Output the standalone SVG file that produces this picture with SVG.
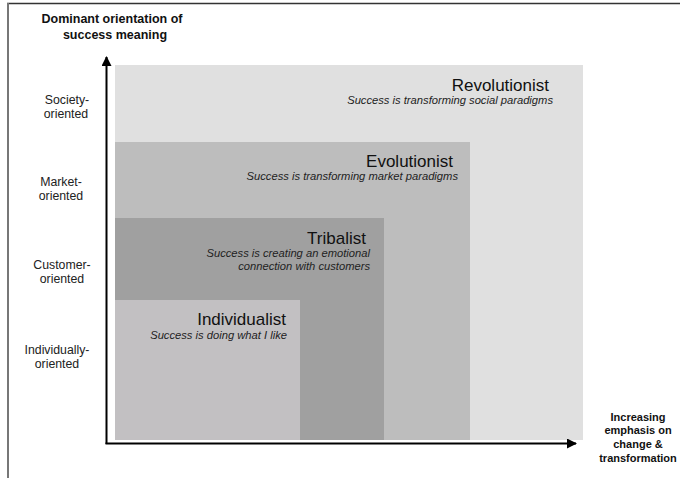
<svg xmlns="http://www.w3.org/2000/svg" width="680" height="478" viewBox="0 0 680 478">
<style>
.ax{font-family:"Liberation Sans",Arial,sans-serif;font-size:11px;font-weight:bold;fill:#111;text-anchor:middle}
.yt{font-size:12.5px}
.lbl{font-family:"Liberation Sans",Arial,sans-serif;font-size:12.3px;fill:#222;text-anchor:middle}
.ttl{font-family:"Liberation Sans",Arial,sans-serif;font-size:17px;fill:#111;text-anchor:end}
.sub{font-family:"Liberation Sans",Arial,sans-serif;font-size:11.2px;font-style:italic;fill:#222;text-anchor:end}
.axis{stroke:#000;stroke-width:2;fill:none}
</style>
<defs>
<marker id="ah" viewBox="0 0 10 10" refX="9" refY="5" markerWidth="5" markerHeight="5" orient="auto" markerUnits="strokeWidth">
<path d="M0,0 L10,5 L0,10 z" fill="#000"/>
</marker>
</defs>
<rect width="680" height="478" fill="#fff"/>
<g id="frame">
<line x1="7" y1="3.5" x2="680" y2="3.5" stroke="#333" stroke-width="1.5"/>
<line x1="8" y1="3" x2="8" y2="478" stroke="#777" stroke-width="2"/>
</g>
<g id="revolutionist">
<rect x="115" y="65" width="468" height="375" fill="#e0e0e0"/>
<text class="ttl" x="549" y="91">Revolutionist</text>
<text class="sub" x="553" y="104">Success is transforming social paradigms</text>
</g>
<g id="evolutionist">
<rect x="115" y="142" width="355" height="298" fill="#bdbdbd"/>
<text class="ttl" x="453" y="167">Evolutionist</text>
<text class="sub" x="458" y="180">Success is transforming market paradigms</text>
</g>
<g id="tribalist">
<rect x="115" y="218" width="269" height="222" fill="#a0a0a0"/>
<text class="ttl" x="366" y="244">Tribalist</text>
<text class="sub" x="370" y="257">Success is creating an emotional</text>
<text class="sub" x="370" y="270">connection with customers</text>
</g>
<g id="individualist">
<rect x="115" y="300" width="185" height="140" fill="#c2c0c2"/>
<text class="ttl" x="286" y="325">Individualist</text>
<text class="sub" x="287" y="339">Success is doing what I like</text>
</g>
<g id="connectors">
<line class="axis" x1="106.5" y1="444" x2="106.5" y2="57" marker-end="url(#ah)"/>
<line class="axis" x1="105.5" y1="443.5" x2="576" y2="443.5" marker-end="url(#ah)"/>
</g>
<g id="y-axis-title">
<text class="ax yt" x="112" y="23">Dominant orientation of</text>
<text class="ax yt" x="115" y="39">success meaning</text>
</g>
<g id="x-axis-title">
<text class="ax" x="638" y="421">Increasing</text>
<text class="ax" x="638" y="434">emphasis on</text>
<text class="ax" x="638" y="448">change &amp;</text>
<text class="ax" x="638" y="462">transformation</text>
</g>
<g id="levels">
<text class="lbl" x="67" y="104">Society-</text>
<text class="lbl" x="66" y="118">oriented</text>
<text class="lbl" x="61" y="186">Market-</text>
<text class="lbl" x="61" y="200">oriented</text>
<text class="lbl" x="62" y="269">Customer-</text>
<text class="lbl" x="62" y="283">oriented</text>
<text class="lbl" x="57" y="354">Individually-</text>
<text class="lbl" x="57" y="368">oriented</text>
</g>
</svg>
